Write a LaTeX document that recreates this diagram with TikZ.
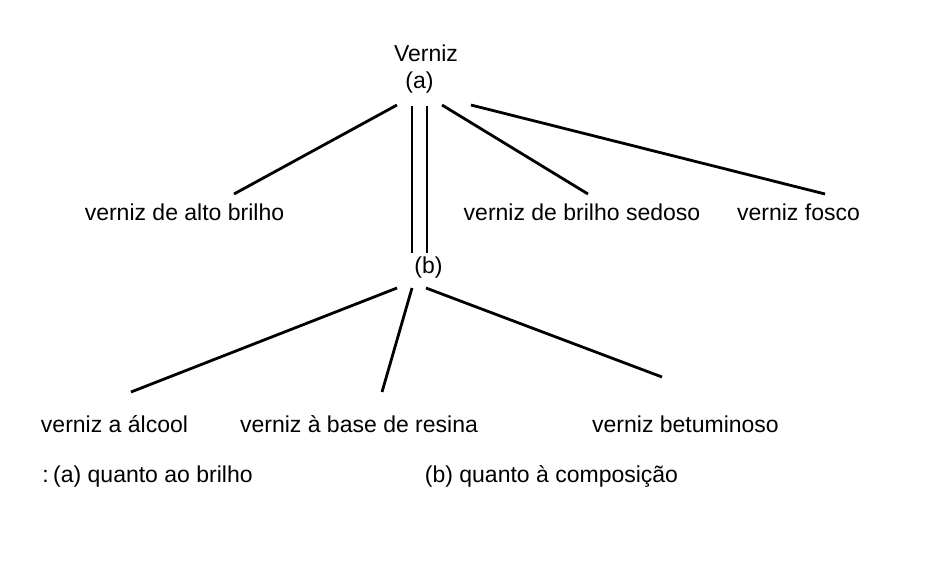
\documentclass[tikz,border=0pt]{standalone}
\usepackage{fontspec}
\setmainfont{Liberation Sans}
\begin{document}
\begin{tikzpicture}[x=1pt,y=-1pt,
  lbl/.style={inner sep=0pt, anchor=base, font=\fontsize{23}{27}\selectfont},
  conn/.style={line width=2.8pt, line cap=butt}]
\useasboundingbox (0,0) rectangle (930,566);
% labels
\node[lbl] (verniz) at (426,61) {Verniz};
\node[lbl] (a) at (419.5,88) {(a)};
\node[lbl] (alto) at (184.5,220) {verniz de alto brilho};
\node[lbl] (sedoso) at (582,220) {verniz de brilho sedoso};
\node[lbl] (fosco) at (798.5,220) {verniz fosco};
\node[lbl] (b) at (428.5,273) {(b)};
\node[lbl] (alcool) at (114.5,432) {verniz a álcool};
\node[lbl] (resina) at (359,432) {verniz à base de resina};
\node[lbl] (betum) at (685.5,432) {verniz betuminoso};
\node[lbl] (notaa) at (147.5,482) {:\hspace{4.5pt}(a) quanto ao brilho};
\node[lbl] (notab) at (551.5,482) {(b) quanto à composição};
% connector end points
\coordinate (a1) at (397,105); \coordinate (alto1) at (234,194);
\coordinate (a2l) at (412,106); \coordinate (b2l) at (412,253);
\coordinate (a2r) at (427,106); \coordinate (b2r) at (427,253);
\coordinate (a3) at (442,105); \coordinate (sedoso1) at (588,194);
\coordinate (a4) at (471,105); \coordinate (fosco1) at (825,194);
\coordinate (b1) at (397,288); \coordinate (alcool1) at (131,392);
\coordinate (b2) at (412,288); \coordinate (resina1) at (382,392);
\coordinate (b3) at (426,288); \coordinate (betum1) at (662,377);
% connectors
\draw[conn] (a1) -- (alto1);
\draw[conn] (a2l) -- (b2l);
\draw[conn] (a2r) -- (b2r);
\draw[conn] (a3) -- (sedoso1);
\draw[conn] (a4) -- (fosco1);
\draw[conn] (b1) -- (alcool1);
\draw[conn] (b2) -- (resina1);
\draw[conn] (b3) -- (betum1);
\end{tikzpicture}
\end{document}
